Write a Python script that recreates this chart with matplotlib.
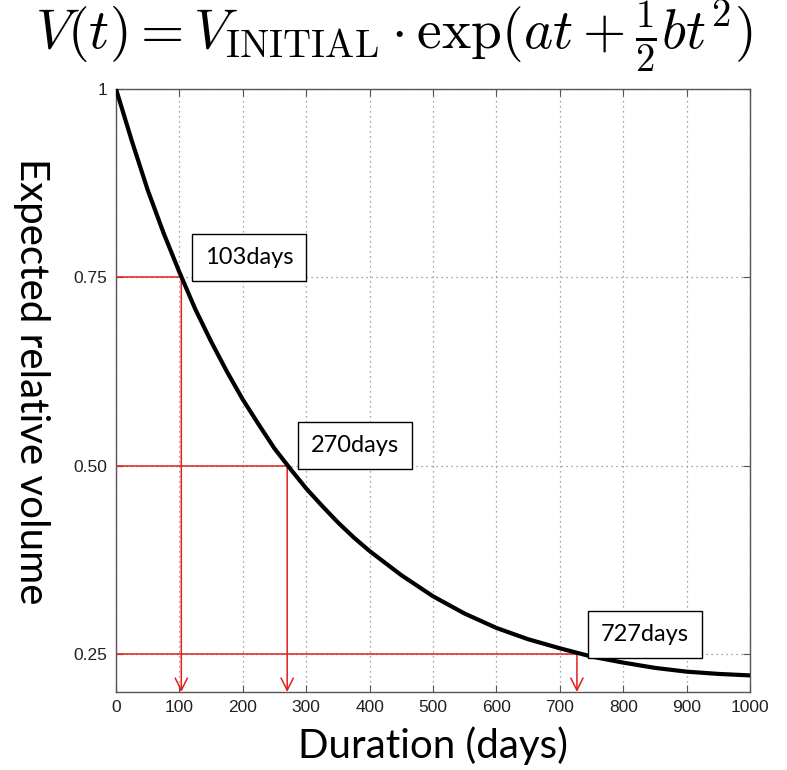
import numpy as np
import matplotlib
matplotlib.use("Agg")
import matplotlib.pyplot as plt

plt.rcParams['mathtext.fontset'] = 'cm'

# curve (days, relative volume)
days = [0, 25, 50, 75, 100, 125, 150, 175, 200, 225, 250, 275, 300, 325, 350, 375,
        400, 450, 500, 550, 600, 650, 700, 750, 800, 850, 900, 950, 1000]
volume = [1.0, 0.931, 0.866, 0.809, 0.757, 0.708, 0.665, 0.625, 0.588, 0.555, 0.523,
          0.496, 0.470, 0.447, 0.425, 0.405, 0.387, 0.355, 0.327, 0.304, 0.285, 0.270,
          0.258, 0.247, 0.239, 0.232, 0.227, 0.224, 0.222]

# marked levels
mark_days = [103, 270, 727]
mark_levels = [0.75, 0.50, 0.25]
mark_labels = ['103days', '270days', '727days']

xticks = [0, 100, 200, 300, 400, 500, 600, 700, 800, 900, 1000]
yticks = [0.25, 0.50, 0.75, 1.0]
ytick_labels = ['0.25', '0.50', '0.75', '1']

fig = plt.figure(figsize=(7.87, 7.70), dpi=100)
ax = fig.add_axes([0.1474, 0.1013, 0.8056, 0.7831])

ax.plot(days, volume, color='black', lw=3, zorder=4)

ymin = 0.2
for t, v, lab in zip(mark_days, mark_levels, mark_labels):
    ax.plot([0, t], [v, v], color='#e0201b', lw=1.1, zorder=3)
    ax.annotate('', xy=(t, ymin), xytext=(t, v),
                arrowprops=dict(arrowstyle='->', color='#e0201b', lw=1.1,
                                mutation_scale=22, shrinkA=0, shrinkB=0),
                zorder=3)
    ax.annotate(lab, xy=(t, v), xytext=(17, 7), textcoords='offset points',
                ha='left', va='bottom', fontsize=17, family='Lato',
                bbox=dict(boxstyle='square,pad=0.55', fc='white', ec='black', lw=1),
                zorder=5)

ax.set_xlim(0, 1000)
ax.set_ylim(ymin, 1)
ax.set_xticks(xticks)
ax.set_yticks(yticks)
ax.set_yticklabels(ytick_labels)
ax.tick_params(direction='in', top=True, right=True, labelsize=12.5,
               labelcolor='#222222', length=5, width=0.8, color='#555555', pad=6)
for lab in ax.get_xticklabels() + ax.get_yticklabels():
    lab.set_family('Liberation Sans')
for s in ax.spines.values():
    s.set_color('#555555')
    s.set_linewidth(1)
ax.grid(True, linestyle=(0, (1, 3)), color='#888888', lw=0.9)

ax.set_xlabel('Duration (days)', fontsize=29, family='Lato', labelpad=8)
fig.text(0.04, 0.505, 'Expected relative volume', rotation=-90, fontsize=29,
         family='Lato', ha='center', va='center')

fig.text(0.5, 0.952, r'$V(t) = V_{\mathrm{INITIAL}} \cdot \exp(at + \frac{1}{2}bt^2)$',
         fontsize=40, ha='center', va='center')

fig.savefig('out.png', dpi=100)
